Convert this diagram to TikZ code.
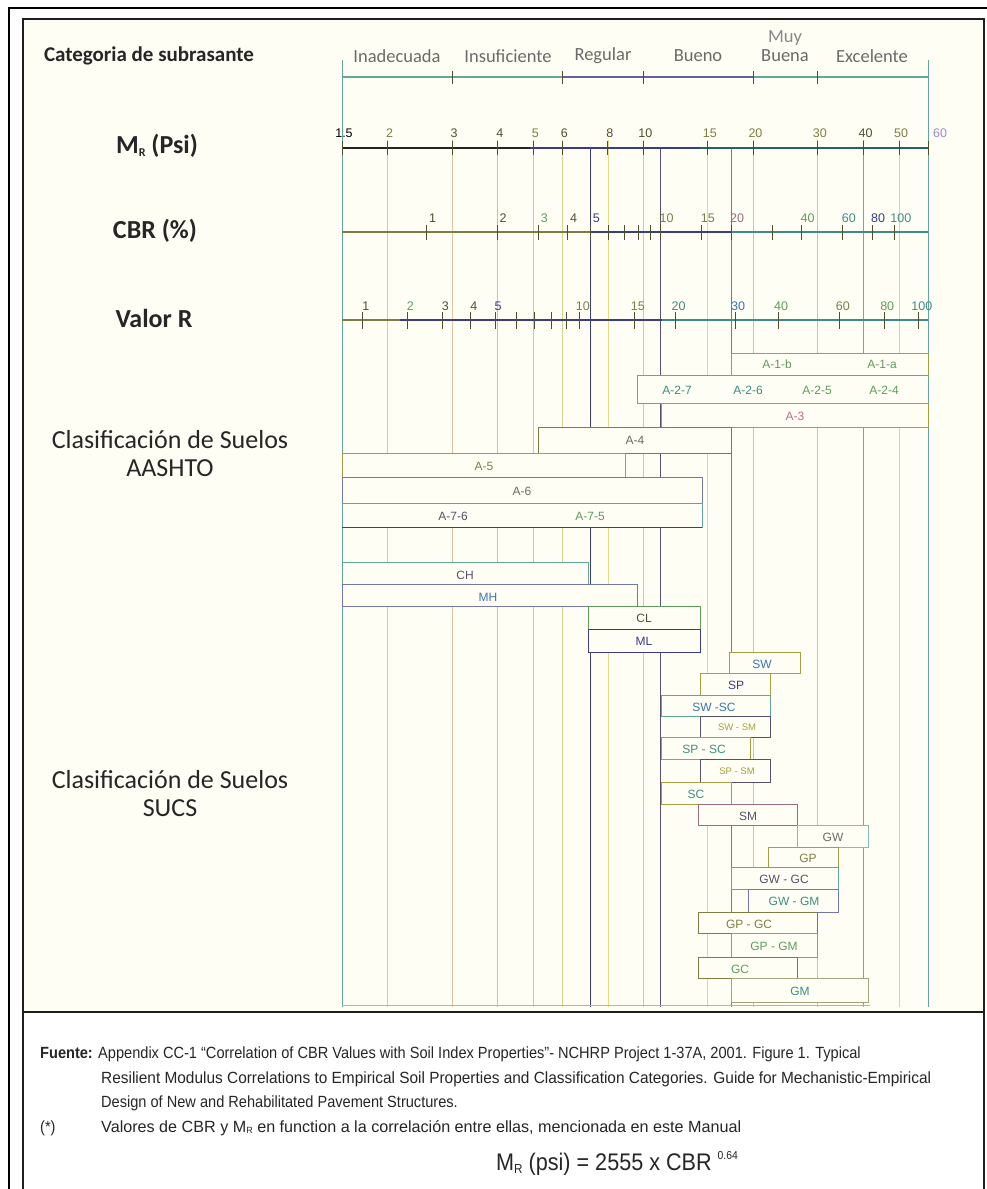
\documentclass[tikz,border=0pt]{standalone}
\usepackage{fontspec}
\usepackage{graphicx}
\setmainfont{Carlito}
\newfontfamily\cadfont{Liberation Sans}
\newfontfamily\notefont[FakeStretch=0.9]{Liberation Sans}
\usetikzlibrary{calc}

% palette
\definecolor{paper}{HTML}{FFFEF4}
\definecolor{frameC}{HTML}{1E1E1E}
\definecolor{edgeC}{HTML}{62A898}
\definecolor{gA}{HTML}{D8CC98}
\definecolor{gB}{HTML}{D6C6A4}
\definecolor{gC}{HTML}{E2B8A4}
\definecolor{gD}{HTML}{B4D89C}
\definecolor{gE}{HTML}{CED890}
\definecolor{gF}{HTML}{E6DA88}
\definecolor{gG}{HTML}{D8C89C}
\definecolor{gH}{HTML}{D4DE9C}
\definecolor{gI}{HTML}{A6D6AE}
\definecolor{gJ}{HTML}{C6CA96}
\definecolor{gK}{HTML}{9C8CC6}
\definecolor{gL}{HTML}{DED68C}
\definecolor{cNavy}{HTML}{3A3C86}
\definecolor{cSlate}{HTML}{56506A}
\definecolor{cMauve}{HTML}{9A6C82}
\definecolor{cOlive}{HTML}{7E7E44}
\definecolor{cDarkOl}{HTML}{4E4E30}
\definecolor{cTealD}{HTML}{3E8C84}
\definecolor{cBlue}{HTML}{3A74B4}
\definecolor{cGreen}{HTML}{5E9C5A}
\definecolor{cPink}{HTML}{B27090}
\definecolor{cGray}{HTML}{6A6A6A}
\definecolor{cYel}{HTML}{A2A040}

\tikzset{
  declare function={
    mrx(\v)=342+586*ln(\v/1.5)/ln(40);
    cbrx(\c)=mrx(2.555*exp(0.64*ln(\c)));
    rvx(\r)=mrx(1.155+0.555*\r);
  },
  grid/.style={line width=0.8pt},
  axisline/.style={line width=1.3pt},
  tickmark/.style={line width=0.9pt, cDarkOl},
  ticklab/.style={font=\cadfont\fontsize{12.5}{12.5}\selectfont, inner sep=0pt},
  catlab/.style={font=\fontsize{18.5}{18.5}\selectfont, text=cGray, inner sep=0pt},
  sidelab/.style={font=\fontsize{26}{26}\selectfont\bfseries, text=black!85, inner sep=0pt},
  classlab/.style={font=\fontsize{26}{28}\selectfont, text=black!85, inner sep=0pt, align=center},
  soil/.style={fill=paper, line width=0.9pt},
  soillab/.style={font=\cadfont\fontsize{12}{12}\selectfont, inner sep=0pt},
  smallsoil/.style={font=\cadfont\fontsize{9.5}{10}\selectfont, inner sep=0pt},
  note/.style={font=\notefont\fontsize{16.2}{18}\selectfont, text=black!85, inner sep=0pt, anchor=base west},
}

\begin{document}
\begin{tikzpicture}[x=1pt,y=-1pt]
\useasboundingbox (0,0) rectangle (986,1189);
\fill[white] (0,0) rectangle (986,1189);
\fill[paper] (23,19) rectangle (984,1012);

% double frame
\draw[line width=2pt, black] (9,1195) -- (9,8) -- (995,8);
\draw[line width=1.6pt, frameC] (23,1195) -- (23,19) -- (984,19) -- (984,1195);
\draw[line width=1.4pt, frameC] (23,1012) -- (984,1012);

% vertical guide lines of the modulus scale
\foreach \v/\c in {2/gA,3/gB,4/gC,5/gD,6/gE,8/gF,10/gG,15/gH,20/gI,30/gJ,40/gK,50/gL}
  \draw[grid, \c] ({mrx(\v)},140) -- ({mrx(\v)},1007);
\draw[grid, edgeC, line width=1pt] (342,60) -- (342,1007);
\draw[grid, edgeC, line width=1pt] (928,60) -- (928,1007);
% CBR 5, 10 and 20 guides
\draw[grid, cNavy, line width=1pt] ({cbrx(5)},148) -- ({cbrx(5)},1007);
\draw[grid, cSlate, line width=1pt] ({cbrx(10)},148) -- ({cbrx(10)},1007);
\draw[grid, cMauve, line width=1pt] ({cbrx(20)},148) -- ({cbrx(20)},1007);
\draw[grid, edgeC!70] (342,1005) -- (870,1005);

% subgrade category scale
\draw[axisline, edgeC] (342,77) -- (562,77);
\draw[axisline, cNavy!80] (562,77) -- (753,77);
\draw[axisline, edgeC] (753,77) -- (928,77);
\foreach \v in {3,6,10,20,30}
  \draw[tickmark] ({mrx(\v)},71) -- ({mrx(\v)},84);
\node[catlab] (cat1) at (397,56) {Inadecuada};
\node[catlab] (cat2) at (508,56) {Insuficiente};
\node[catlab] (cat3) at (603,56) {Regular};
\node[catlab] (cat4) at (698,56) {Bueno};
\node[catlab, text=cGray!80] (cat5a) at (785,38) {Muy};
\node[catlab] (cat5b) at (785,56) {Buena};
\node[catlab] (cat6) at (872,56) {Excelente};

% modulus scale
\draw[axisline, black!85] (342,148) -- (530,148);
\draw[axisline, cNavy] (530,148) -- (700,148);
\draw[axisline, cTealD!70!black] (700,148) -- (928,148);
\foreach \v in {1.5,2,3,4,5,6,8,10,15,20,30,40,50,60}
  \draw[tickmark] ({mrx(\v)},141) -- ({mrx(\v)},155);
\foreach \v/\c in {1.5/black,2/cOlive,3/cDarkOl,4/cDarkOl,5/cOlive,6/cDarkOl,8/cDarkOl,10/cDarkOl,15/cOlive,20/cOlive,30/cOlive,40/cDarkOl,50/cOlive}
  \node[ticklab, text=\c] at ({mrx(\v)+2},133) {\v};
\node[ticklab, text=gK] (mr60) at (940,133) {60};

% CBR scale
\draw[axisline, cOlive] (342,232) -- (590,232);
\draw[axisline, cNavy] (590,232) -- (731,232);
\draw[axisline, cTealD] (731,232) -- (928,232);
\foreach \c in {1,2,3,4,5,6,7,8,9,10,15,20,30,40,60,80,100}
  \draw[tickmark] ({cbrx(\c)},225) -- ({cbrx(\c)},240);
\foreach \c/\k in {1/cDarkOl,2/cDarkOl,3/cGreen,4/cDarkOl,5/cNavy,10/cOlive,15/cOlive,20/cMauve,40/cGreen,60/cTealD,80/cNavy,100/cTealD}
  \node[ticklab, text=\k] at ({cbrx(\c)+6},218) {\c};

% R-value scale
\draw[axisline, cOlive] (342,320) -- (400,320);
\draw[axisline, cNavy] (400,320) -- (662,320);
\draw[axisline, cTealD] (662,320) -- (928,320);
\foreach \r in {1,2,3,4,5,6,7,8,9,10,15,20,30,40,60,80,100}
  \draw[tickmark] ({rvx(\r)},312) -- ({rvx(\r)},329);
\foreach \r/\k in {1/cDarkOl,2/cGreen,3/cDarkOl,4/cDarkOl,5/cNavy,10/cOlive,15/cOlive,20/cTealD,30/cBlue,40/cGreen,60/cOlive,80/cGreen,100/cTealD}
  \node[ticklab, text=\k] at ({rvx(\r)+3},306) {\r};

% AASHTO classes
\path[soil, draw=cYel] (731,353) rectangle (928,375);
\node[soillab, text=cGreen] (a1b) at (777,364) {A-1-b};
\node[soillab, text=cGreen] (a1a) at (882,364) {A-1-a};
\path[soil, draw=edgeC] (637,375) rectangle (928,403);
\node[soillab, text=cTealD] (a27) at (677,390) {A-2-7};
\node[soillab, text=cTealD] (a26) at (748,390) {A-2-6};
\node[soillab, text=cGreen] (a25) at (817,390) {A-2-5};
\node[soillab, text=cGreen] (a24) at (884,390) {A-2-4};
\path[soil, draw=cYel] (661,403) rectangle (928,427);
\node[soillab, text=cPink] (a3) at (795,416) {A-3};
\path[soil, draw=cOlive] (538,427) rectangle (731,453);
\node[soillab, text=cGray] (a4) at (635,440) {A-4};
\path[soil, draw=cYel] (342,453) rectangle (625,477);
\node[soillab, text=cOlive] (a5) at (484,466) {A-5};
\path[soil, draw=cNavy!70] (342,477) rectangle (702,503);
\node[soillab, text=cGray] (a6) at (522,491) {A-6};
\path[soil, draw=edgeC] (342,503) rectangle (702,527);
\node[soillab, text=cSlate] (a76) at (453,516) {A-7-6};
\node[soillab, text=cGreen] (a75) at (590,516) {A-7-5};
\draw[cNavy, line width=1pt] (342,527) -- (702,527);

% fine-grained classes
\path[soil, draw=edgeC] (342,562) rectangle (588,584);
\node[soillab, text=cSlate] (ch) at (465,575) {CH};
\path[soil, draw=cNavy!70] (342,584) rectangle (637,606);
\node[soillab, text=cBlue] (mh) at (488,597) {MH};
\path[soil, draw=cGreen] (588,606) rectangle (700,629);
\node[soillab, text=cDarkOl] (cl) at (644,618) {CL};
\path[soil, draw=cNavy] (588,629) rectangle (700,652);
\node[soillab, text=cNavy] (ml) at (644,641) {ML};

% coarse-grained classes
\path[soil, draw=cYel] (729,652) rectangle (800,673);
\node[soillab, text=cBlue] (sw) at (762,664) {SW};
\path[soil, draw=cYel] (700,673) rectangle (770,695);
\node[soillab, text=cNavy] (sp) at (736,685) {SP};
\path[soil, draw=edgeC] (661,695) rectangle (770,716);
\node[soillab, text=cBlue] (swsc) at (714,707) {SW -SC};
\path[soil, draw=cSlate] (700,716) rectangle (770,737);
\node[smallsoil, text=cYel] (swsm) at (737,727) {SW - SM};
\path[soil, draw=cYel] (661,737) rectangle (750,759);
\node[soillab, text=cTealD] (spsc) at (704,749) {SP - SC};
\path[soil, draw=cSlate] (700,759) rectangle (770,782);
\node[smallsoil, text=cYel] (spsm) at (737,771) {SP - SM};
\path[soil, draw=cYel] (661,782) rectangle (731,804);
\node[soillab, text=cTealD] (sc) at (696,794) {SC};
\path[soil, draw=cMauve] (698,804) rectangle (797,825);
\node[soillab, text=cSlate] (sm) at (748,816) {SM};
\path[soil, draw=cTealD!60] (797,825) rectangle (868,847);
\node[soillab, text=cGray] (gw) at (833,837) {GW};
\path[soil, draw=cYel] (768,847) rectangle (838,867);
\node[soillab, text=cOlive] (gp) at (808,858) {GP};
\path[soil, draw=edgeC] (731,867) rectangle (838,889);
\node[soillab, text=cSlate] (gwgc) at (784,879) {GW - GC};
\path[soil, draw=cNavy!70] (748,889) rectangle (838,912);
\node[soillab, text=cTealD] (gwgm) at (794,901) {GW - GM};
\path[soil, draw=cOlive] (698,912) rectangle (817,933);
\node[soillab, text=cOlive] (gpgc) at (749,924) {GP - GC};
\path[soil, draw=cYel] (731,933) rectangle (817,957);
\node[soillab, text=cGreen] (gpgm) at (774,946) {GP - GM};
\path[soil, draw=cOlive] (698,957) rectangle (797,978);
\node[soillab, text=cGreen] (gc) at (740,969) {GC};
\path[soil, draw=cOlive!70] (731,978) rectangle (868,1002);
\node[soillab, text=cTealD] (gm) at (800,991) {GM};

% row titles
\node[sidelab, font=\fontsize{21}{21}\selectfont\bfseries] (tcat) at (149,56) {Categoria de subrasante};
\node[sidelab] (tmr) at (157,146) {M\raisebox{-0.25ex}{\fontsize{12}{12}\selectfont R} (Psi)};
\node[sidelab] (tcbr) at (155,231) {CBR (\%)};
\node[sidelab] (tr) at (154,318) {Valor R};
\node[classlab] (taashto) at (170,454) {Clasificación de Suelos\\AASHTO};
\node[classlab] (tsucs) at (170,794) {Clasificación de Suelos\\SUCS};

% source notes
\node[note] (n1) at (40,1058) {\textbf{Fuente:} Appendix CC-1 “Correlation of CBR Values with Soil Index Properties”- NCHRP Project 1-37A, 2001. Figure 1. Typical};
\node[note] (n2) at (101,1083) {\resizebox{830pt}{\height}{Resilient Modulus Correlations to Empirical Soil Properties and Classification Categories. Guide for Mechanistic-Empirical}};
\node[note] (n3) at (101,1107) {Design of New and Rehabilitated Pavement Structures.};
\node[note] (n4a) at (40,1132) {(*)};
\node[note] (n4) at (101,1132) {\resizebox{640pt}{\height}{Valores de CBR y M\raisebox{-0.2ex}{\fontsize{9}{9}\selectfont R} en function a la correlación entre ellas, mencionada en este Manual}};
\node[note, font=\notefont\fontsize{24}{24}\selectfont] (eq) at (496,1170) {M\raisebox{-0.25ex}{\fontsize{13}{13}\selectfont R} (psi) = 2555 x CBR \raisebox{0.8ex}{\fontsize{11.5}{11.5}\selectfont 0.64}};
\end{tikzpicture}
\end{document}
